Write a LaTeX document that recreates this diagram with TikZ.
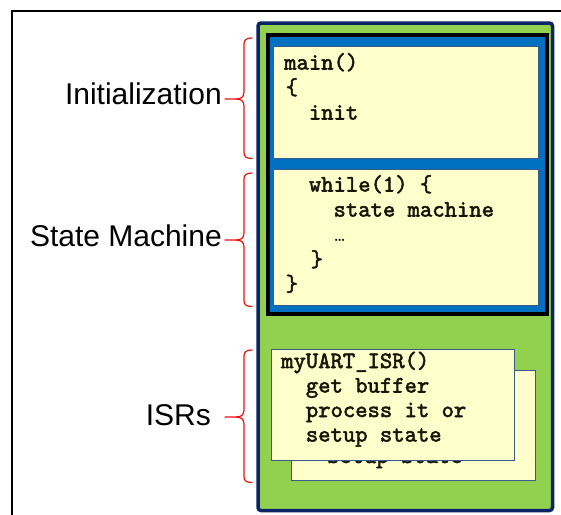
\documentclass[tikz,border=0pt]{standalone}
\usepackage{fontspec}
\setmainfont{Liberation Sans}
\newfontfamily\codefont{lmmono10-regular.otf}[FakeBold=2.2]

\definecolor{boardgreen}{HTML}{92D050}
\definecolor{boardedge}{HTML}{0C2466}
\definecolor{loopblue}{HTML}{0070C0}
\definecolor{codebg}{HTML}{FFFFCC}
\definecolor{paneledge}{HTML}{3A5A8C}
\definecolor{bracered}{HTML}{F01010}
\definecolor{codeink}{HTML}{1A1408}

% curly brace: name of its tip, top y, tip y, bottom y
\newcommand\sectionbrace[4]{%
  \coordinate (#1) at (225,#3);
  \draw[bracket] (#1) -- (236,#3)
     .. controls (241,#3) and (244,#3-2) .. (244,#3-7)
     -- (244,#2+6) .. controls (244,#2+2) and (246,#2) .. (252,#2);
  \draw[bracket] (236,#3)
     .. controls (241,#3) and (244,#3+2) .. (244,#3+7)
     -- (244,#4-6) .. controls (244,#4-2) and (246,#4) .. (252,#4);
}

\begin{document}
\begin{tikzpicture}[x=1pt,y=-1pt,
  panel/.style={draw=paneledge, fill=codebg, line width=0.9pt,
    inner sep=0pt, outer sep=0pt, anchor=north west},
  code/.style={font=\codefont\bfseries\fontsize{23.5}{26}\selectfont,
    text=codeink, anchor=base west, inner sep=0pt},
  caption/.style={font=\fontsize{30}{36}\selectfont, anchor=base east,
    inner sep=0pt},
  bracket/.style={draw=bracered, line width=1.2pt, line cap=round}]
\useasboundingbox (0,0) rectangle (561,514);

% outer frame, running off the right and bottom edges
\draw[line width=2pt] (11.5,530) -- (11.5,10.5) -- (580,10.5);

% program memory
\node[draw=boardedge, fill=boardgreen, line width=3.5pt, rounded corners=3pt,
  inner sep=0pt, outer sep=0pt, anchor=north west,
  minimum width=294.5pt, minimum height=487.5pt] (board) at (258,23) {};

% main() with its loop
\node[draw=black, fill=loopblue, line width=4pt, inner sep=0pt, outer sep=0pt,
  anchor=north west, minimum width=278.5pt, minimum height=279pt]
  (mainfn) at (268,35) {};
\node[panel, minimum width=265.5pt, minimum height=112pt] (initpanel) at (273,46) {};
\node[panel, minimum width=265.5pt, minimum height=136.5pt] (looppanel) at (273,169) {};

\node[code] (m1) at (284,69.5) {main()};
\node[code] (m2) at (285.5,94.5) {\{};
\node[code] (m3) at (308.7,119.5) {init};

\node[code] (w1) at (308.7,191.5) {while(1) \{};
\node[code] (w2) at (333.4,216.5) {state machine};
\node[code, font=\ttfamily\fontsize{20}{24}\selectfont] (w3) at (334.5,241.5) {\textellipsis};
\node[code] (w4) at (310.5,266.5) {\}};
\node[code] (w5) at (285.5,291) {\}};

% interrupt service routines, one stacked behind the other;
% only the last line of the rear one peeks out below the front one
\node[panel, minimum width=243.3pt, minimum height=110.7pt] (isrback) at (291.7,370) {};
\node[code] (b4) at (326.7,463) {setup state};

\node[panel, minimum width=243.3pt, minimum height=110.7pt] (isrfront) at (271,349.3) {};
\node[code] (f1) at (281,368) {myUART\_ISR()};
\node[code] (f2) at (305.7,392.5) {get buffer};
\node[code] (f3) at (305.7,417) {process it or};
\node[code] (f4) at (305.7,441.5) {setup state};

% section labels and their braces
\node[caption] (capinit) at (222,104) {Initialization};
\node[caption] (capstate) at (222,246.5) {State Machine};
\node[caption] (capisr) at (211,425) {ISRs};

\sectionbrace{tipinit}{38}{99}{158.5}
\sectionbrace{tipstate}{173}{240}{306.5}
\sectionbrace{tipisr}{350}{417}{482.5}
\end{tikzpicture}
\end{document}
